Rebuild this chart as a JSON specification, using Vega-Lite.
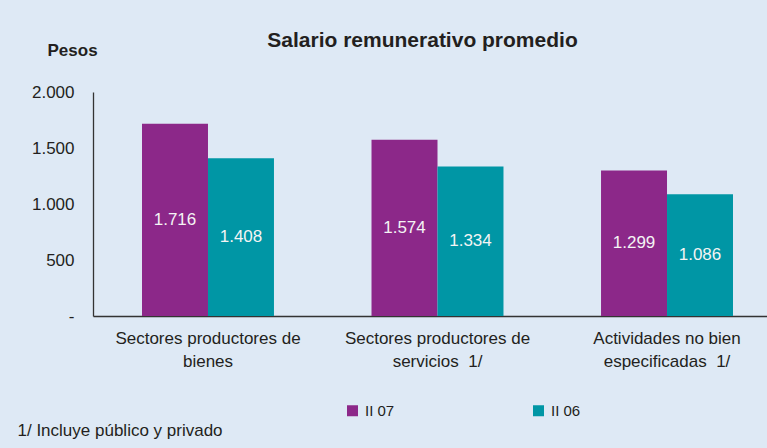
{
  "$schema": "https://vega.github.io/schema/vega-lite/v6.json",
  "width": 674,
  "height": 224,
  "autosize": {"type": "none"},
  "padding": {"left": 93, "top": 92, "right": 0, "bottom": 132},
  "background": "#DEE9F5",
  "config": {
    "locale": {"number": {"decimal": ",", "thousands": ".", "grouping": [3], "currency": ["$", ""]}},
    "view": {"stroke": null},
    "font": "Liberation Sans"
  },
  "title": {
    "text": "Salario remunerativo promedio",
    "fontSize": 21,
    "fontWeight": "bold",
    "color": "#231F20",
    "anchor": "middle",
    "frame": "group",
    "dx": -7.5,
    "offset": 0,
    "dy": 27,
    "baseline": "alphabetic"
  },
  "data": {
    "values": [
      {"cat": "Sectores productores de|bienes", "serie": "II 07", "value": 1716},
      {"cat": "Sectores productores de|bienes", "serie": "II 06", "value": 1408},
      {"cat": "Sectores productores de|servicios\u00a0 1/", "serie": "II 07", "value": 1574},
      {"cat": "Sectores productores de|servicios\u00a0 1/", "serie": "II 06", "value": 1334},
      {"cat": "Actividades no bien|especificadas\u00a0 1/", "serie": "II 07", "value": 1299},
      {"cat": "Actividades no bien|especificadas\u00a0 1/", "serie": "II 06", "value": 1086}
    ]
  },
  "encoding": {
    "x": {
      "field": "cat",
      "type": "nominal",
      "sort": null,
      "scale": {"range": [0, 689], "paddingInner": 0.425, "paddingOuter": 0.2135},
      "axis": {
        "labelExpr": "split(datum.label, '|')",
        "labelAngle": 0,
        "labelFontSize": 17,
        "labelColor": "#231F20",
        "labelLineHeight": 23,
        "labelPadding": 14,
        "labelLimit": 400,
        "ticks": false,
        "domainColor": "#333333",
        "domainWidth": 1.3,
        "title": "1/ Incluye público y privado",
        "titleX": -76,
        "titleY": 119,
        "titleAlign": "left",
        "titleAnchor": "start",
        "titleBaseline": "alphabetic",
        "titleFontWeight": "normal",
        "titleFontSize": 17,
        "titleColor": "#231F20"
      }
    },
    "xOffset": {"field": "serie", "type": "nominal", "sort": ["II 07", "II 06"], "scale": {"paddingInner": 0, "paddingOuter": 0}},
    "y": {
      "field": "value",
      "type": "quantitative",
      "stack": null,
      "scale": {"domain": [0, 2000], "nice": false},
      "axis": {
        "values": [0, 500, 1000, 1500, 2000],
        "labelExpr": "datum.value === 0 ? '-\u00a0\u00a0\u00a0\u00a0' : datum.label",
        "ticks": false,
        "grid": false,
        "domainColor": "#333333",
        "domainWidth": 1.3,
        "labelPadding": 19,
        "labelFontSize": 17,
        "labelColor": "#231F20",
        "title": "Pesos",
        "titleAngle": 0,
        "titleX": -46,
        "titleY": -37,
        "titleAlign": "left",
        "titleBaseline": "alphabetic",
        "titleFontSize": 17,
        "titleFontWeight": "bold",
        "titleColor": "#231F20"
      }
    }
  },
  "layer": [
    {
      "mark": {"type": "bar"},
      "encoding": {
        "color": {
          "field": "serie",
          "type": "nominal",
          "sort": ["II 07", "II 06"],
          "scale": {"domain": ["II 07", "II 06"], "range": ["#8C2889", "#0096A5"]},
          "legend": {
            "orient": "none",
            "legendX": 252,
            "legendY": 311,
            "direction": "horizontal",
            "title": null,
            "symbolType": "square",
            "symbolSize": 121,
            "symbolStrokeWidth": 0,
            "labelFontSize": 15,
            "labelColor": "#231F20",
            "labelOffset": 5,
            "columnPadding": 136,
            "padding": 0
          }
        }
      }
    },
    {
      "mark": {"type": "text", "color": "#F4F4F4", "fontSize": 17},
      "encoding": {
        "y": {"field": "value", "type": "quantitative", "stack": "zero", "bandPosition": 0.5},
        "text": {"field": "value", "type": "quantitative", "format": ",d"}
      }
    }
  ]
}
